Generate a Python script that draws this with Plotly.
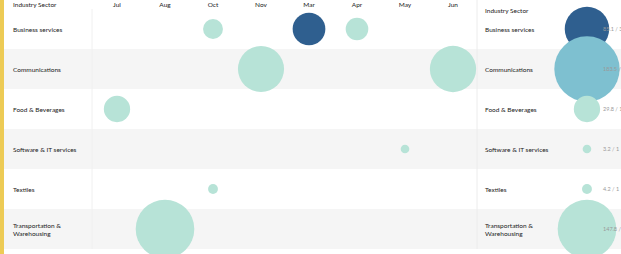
import plotly.graph_objects as go

# ---- data ----
months = ["Jul", "Aug", "Oct", "Nov", "Mar", "Apr", "May", "Jun"]
sectors = ["Business services", "Communications", "Food & Beverages",
           "Software & IT services", "Textiles", "Transportation & Warehousing"]
sector_labels = ["Business services", "Communications", "Food & Beverages",
                 "Software & IT services", "Textiles", "Transportation &<br>Warehousing"]

# monthly deals (sector, month, value, color group)
deal_sector = ["Business services", "Business services", "Business services",
               "Communications", "Communications", "Food & Beverages",
               "Software & IT services", "Textiles", "Transportation & Warehousing"]
deal_month = ["Oct", "Mar", "Apr", "Nov", "Jun", "Jul", "May", "Oct", "Aug"]
deal_value = [17.0, 46.1, 22.0, 91.5, 92.0, 29.8, 3.2, 4.2, 147.8]
deal_group = ["light", "dark", "light", "light", "light", "light", "light", "light", "light"]

# totals
total_value = [85.1, 183.5, 29.8, 3.2, 4.2, 147.8]
total_count = [3, 2, 1, 1, 1, 1]
total_group = ["dark", "mid", "light", "light", "light", "light"]

colors = {"light": "#b7e3d7", "dark": "#2f5f8f", "mid": "#7ec0d0"}

W, H = 621, 254
SIZEREF = 0.086
font_fam = "Lato, 'Open Sans', sans-serif"

fig = go.Figure()

fig.add_trace(go.Scatter(
    x=deal_month, y=deal_sector, mode="markers",
    marker=dict(size=deal_value, sizemode="area", sizeref=SIZEREF,
                color=[colors[g] for g in deal_group], line=dict(width=0), opacity=1),
    cliponaxis=False, hoverinfo="skip", showlegend=False,
    xaxis="x", yaxis="y"))

fig.add_trace(go.Scatter(
    x=["Total"] * len(sectors), y=sectors, mode="markers",
    marker=dict(size=total_value, sizemode="area", sizeref=SIZEREF,
                color=[colors[g] for g in total_group], line=dict(width=0), opacity=1),
    cliponaxis=False, hoverinfo="skip", showlegend=False,
    xaxis="x2", yaxis="y"))

shapes = []
# alternating row backgrounds
for i, s in enumerate(sectors):
    if i % 2 == 1:
        shapes.append(dict(type="rect", xref="paper", yref="y", x0=4 / W, x1=1,
                           y0=i - 0.5, y1=i + 0.5, fillcolor="#f5f5f5",
                           line=dict(width=0), layer="below"))
# divider between panels
shapes.append(dict(type="line", xref="paper", yref="paper", x0=477 / W, x1=477 / W,
                   y0=0, y1=1.04, line=dict(color="#ececec", width=1), layer="below"))
shapes.append(dict(type="line", xref="paper", yref="paper", x0=92 / W, x1=92 / W,
                   y0=0, y1=1.0, line=dict(color="#f0f0f0", width=1), layer="below"))
# yellow accent bar
shapes.append(dict(type="rect", xref="paper", yref="paper", x0=0, x1=4 / W,
                   y0=-0.1, y1=1.1, fillcolor="#edcb55", line=dict(width=0)))

annotations = []
for i, lab in enumerate(sector_labels):
    annotations.append(dict(xref="paper", yref="y", x=11 / W, y=sectors[i], text=lab,
                            showarrow=False, xanchor="left", yanchor="middle", align="left",
                            font=dict(size=6.5, color="#222", family=font_fam)))
    annotations.append(dict(xref="paper", yref="y", x=483 / W, y=sectors[i], text=lab,
                            showarrow=False, xanchor="left", yanchor="middle", align="left",
                            font=dict(size=6.5, color="#222", family=font_fam)))
    annotations.append(dict(xref="x2", yref="y", x="Total", y=sectors[i],
                            text=f"{total_value[i]:.1f} / {total_count[i]}",
                            showarrow=False, xanchor="left", yanchor="middle", xshift=14,
                            font=dict(size=5.5, color="#9a9a9a", family=font_fam)))
annotations.append(dict(xref="paper", yref="paper", x=11 / W, y=1, yshift=5,
                        text="Industry Sector", showarrow=False, xanchor="left",
                        yanchor="middle", font=dict(size=6.5, color="#222", family=font_fam)))
annotations.append(dict(xref="paper", yref="paper", x=483 / W, y=1, yshift=4,
                        text="Industry Sector", showarrow=False, xanchor="left",
                        yanchor="top", font=dict(size=6.5, color="#222", family=font_fam)))

fig.update_layout(
    width=W, height=H,
    margin=dict(l=0, r=0, t=9, b=5, autoexpand=False),
    paper_bgcolor="white", plot_bgcolor="rgba(0,0,0,0)",
    xaxis=dict(type="category", categoryorder="array", categoryarray=months,
               domain=[93 / W, 477 / W], range=[-0.5, 7.5], side="top",
               automargin=False, ticklabelstandoff=0,
               showgrid=False, zeroline=False, showline=False, ticks="",
               tickfont=dict(size=6.5, color="#222", family=font_fam)),
    xaxis2=dict(type="category", domain=[478 / W, 1], range=[-0.762, 0.238],
                automargin=False,
                showgrid=False, zeroline=False, showline=False, showticklabels=False),
    yaxis=dict(type="category", categoryorder="array", categoryarray=sectors,
               range=[5.5, -0.5], showgrid=False, zeroline=False, showline=False,
               automargin=False, showticklabels=False),
    shapes=shapes, annotations=annotations,
)

fig.write_html("out.html", config={"displayModeBar": False},
               post_script="document.body.style.margin='0';document.body.style.padding='0';")
